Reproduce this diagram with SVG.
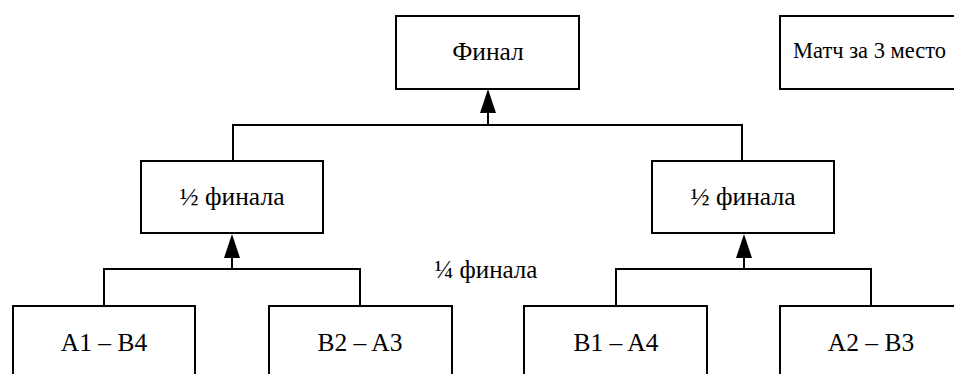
<svg xmlns="http://www.w3.org/2000/svg" width="954" height="374" viewBox="0 0 954 374">
<style>
.box{fill:#fff;stroke:#000;stroke-width:2}
.t{font-family:'Liberation Serif','Times New Roman','DejaVu Serif',serif;font-size:25.5px;fill:#000;text-anchor:middle}
.s{font-size:22.5px}
.ln{fill:none;stroke:#000;stroke-width:2}
.ah{fill:#000}
</style>
<rect width="954" height="374" fill="#fff"/>
<g id="connectors">
<path class="ln" d="M233,161 V125 H742 V161"/>
<path class="ln" d="M488,125 V113"/>
<polygon class="ah" points="480,113 496,113 488,89"/>
<path class="ln" d="M104,306 V269 H360 V306"/>
<path class="ln" d="M232,269 V258"/>
<polygon class="ah" points="224,258 240,258 232,234"/>
<path class="ln" d="M616,306 V269 H871 V306"/>
<path class="ln" d="M744,269 V258"/>
<polygon class="ah" points="736,258 752,258 744,234"/>
</g>
<g id="final">
<rect class="box" x="396" y="16" width="183" height="73"/>
<text class="t" x="488" y="60">Финал</text>
</g>
<g id="third">
<rect class="box" x="780" y="16" width="183" height="73"/>
<text class="t s" x="793" y="58" style="text-anchor:start">Матч за 3 место</text>
</g>
<g id="semi1">
<rect class="box" x="141" y="161" width="182" height="72"/>
<text class="t" x="232" y="205">½ финала</text>
</g>
<g id="semi2">
<rect class="box" x="652" y="161" width="182" height="72"/>
<text class="t" x="743" y="205">½ финала</text>
</g>
<g id="quarter-label">
<text class="t" x="486" y="278" style="font-size:25px">¼ финала</text>
</g>
<g id="q1">
<rect class="box" x="13" y="306" width="182" height="80"/>
<text class="t" x="104" y="351">A1 – B4</text>
</g>
<g id="q2">
<rect class="box" x="269" y="306" width="183" height="80"/>
<text class="t" x="360" y="351">B2 – A3</text>
</g>
<g id="q3">
<rect class="box" x="524" y="306" width="183" height="80"/>
<text class="t" x="616" y="351">B1 – A4</text>
</g>
<g id="q4">
<rect class="box" x="780" y="306" width="183" height="80"/>
<text class="t" x="871" y="351">A2 – B3</text>
</g>
</svg>
